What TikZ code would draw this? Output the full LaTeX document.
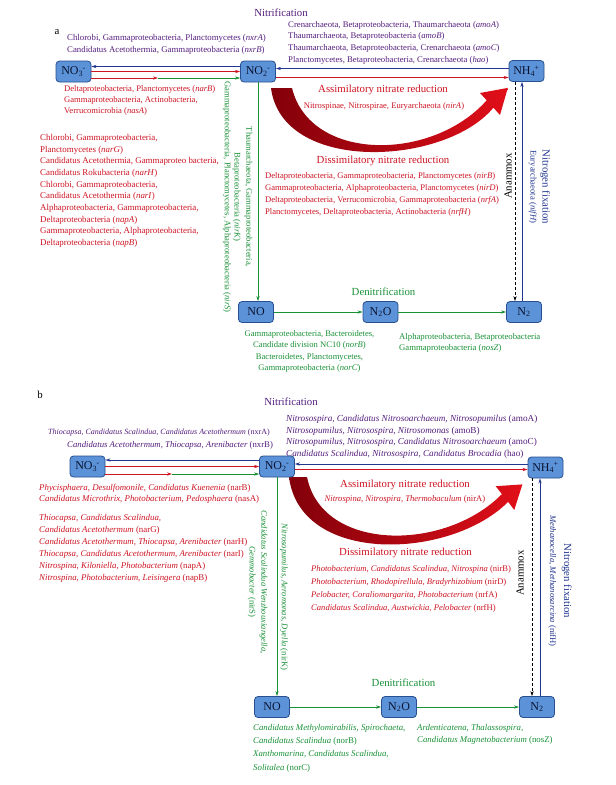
\documentclass[tikz,border=0pt]{standalone}
\usepackage{fontspec}
\setmainfont{Liberation Serif}
\usetikzlibrary{arrows.meta}
\definecolor{purp}{RGB}{85,30,125}
\definecolor{redt}{RGB}{205,20,35}
\definecolor{grn}{RGB}{25,145,55}
\definecolor{blu}{RGB}{35,55,145}
\definecolor{boxfill}{RGB}{92,146,215}
\definecolor{boxdraw}{RGB}{40,80,145}
\definecolor{boxtext}{RGB}{10,20,50}
\definecolor{crdark}{RGB}{130,0,10}
\definecolor{crlight}{RGB}{225,15,25}
\newcommand{\chemsub}[2]{\textsubscript{#1}\kern-0.5pt\textsuperscript{#2}}
\begin{document}
\begin{tikzpicture}[x=1pt,y=-1pt,
 chem/.style={draw=boxdraw,fill=boxfill,rounded corners=3.5pt,line width=0.8pt,minimum width=35pt,minimum height=21pt,inner sep=0pt,font=\fontsize{12}{13}\selectfont,text=boxtext},
 sp/.style={inner sep=0pt,font=\fontsize{8.6}{11.7}\selectfont,align=left,anchor=north west},
 ttl/.style={inner sep=0pt,font=\fontsize{10.8}{12}\selectfont},
 arr/.style={line width=0.75pt,-{Stealth[length=5pt,width=3.2pt]}},
 dsh/.style={dash pattern=on 3pt off 2pt}
]
\fill[white] (0,0) rectangle (616,785);
\useasboundingbox (0,0) rectangle (616,785);

% ================= panel a =================
\shade[left color=crdark,right color=crlight]
 (271,88) .. controls (282,174) and (445,166) .. (493.4,107.7)
 -- (500,115) -- (507.8,87.9) -- (480,93) -- (486.7,100.3)
 .. controls (432,162) and (310,162) .. (292,88) -- cycle;

\node[ttl] (lbla) at (57,32) {a};
\node[ttl,text=purp] (nitra) at (281,13) {Nitrification};
\node[sp,text=purp,font=\fontsize{8.8}{11.7}\selectfont] (nxra) at (67,34) {Chlorobi, Gammaproteobacteria, Planctomycetes (\textit{nxrA})\\Candidatus Acetothermia, Gammaproteobacteria (\textit{nxrB})};
\node[sp,text=purp,font=\fontsize{8.7}{11.6}\selectfont] (amoa) at (288,21) {Crenarchaeota, Betaproteobacteria, Thaumarchaeota (\textit{amoA})\\Thaumarchaeota, Betaproteobacteria (\textit{amoB})\\Thaumarchaeota, Betaproteobacteria, Crenarchaeota (\textit{amoC})\\Planctomycetes, Betaproteobacteria, Crenarchaeota (\textit{hao})};

\node[chem] (no3a) at (73.5,71.5) {NO\chemsub{3}{-}};
\node[chem] (no2a) at (258,71.5) {NO\chemsub{2}{-}};
\node[chem] (nh4a) at (526.5,71) {NH\chemsub{4}{+}};
\node[chem] (noa) at (256,312) {NO};
\node[chem] (n2oa) at (380.5,312) {N\textsubscript{2}O};
\node[chem] (n2a) at (524,312) {N\textsubscript{2}};

\node[sp,text=redt,font=\fontsize{8.6}{11.3}\selectfont] (narba) at (64,85) {Deltaproteobacteria, Planctomycetes (\textit{narB})\\Gammaproteobacteria, Actinobacteria,\\Verrucomicrobia (\textit{nasA})};
\node[sp,text=redt,font=\fontsize{8.9}{11.7}\selectfont] (narga) at (40,134) {Chlorobi, Gammaproteobacteria,\\Planctomycetes (\textit{narG})\\Candidatus Acetothermia, Gammaproteo bacteria,\\Candidatus Rokubacteria (\textit{narH})\\Chlorobi, Gammaproteobacteria,\\Candidatus Acetothermia (\textit{narI})\\Alphaproteobacteria, Gammaproteobacteria,\\Deltaproteobacteria (\textit{napA})\\Gammaproteobacteria, Alphaproteobacteria,\\Deltaproteobacteria (\textit{napB})};

\node[ttl,text=redt] (assima) at (383,90) {Assimilatory nitrate reduction};
\node[sp,anchor=center,text=redt] (nira) at (384,106) {Nitrospinae, Nitrospirae, Euryarchaeota (\textit{nirA})};
\node[ttl,text=redt] (dissa) at (383,161) {Dissimilatory nitrate reduction};
\node[sp,text=redt,font=\fontsize{8.6}{12}\selectfont] (nirba) at (265,172) {Deltaproteobacteria, Gammaproteobacteria, Planctomycetes (\textit{nirB})\\Gammaproteobacteria, Alphaproteobacteria, Planctomycetes (\textit{nirD})\\Deltaproteobacteria, Verrucomicrobia, Gammaproteobacteria (\textit{nrfA})\\Planctomycetes, Deltaproteobacteria, Actinobacteria (\textit{nrfH})};

\node[sp,anchor=center,align=center,rotate=-90,text=grn] (nirka) at (242.5,197) {Thaumarchaeota, Gammaproteobacteria,\\Betaproteobacteria (\textit{nirK})};
\node[sp,anchor=center,rotate=-90,text=grn] (nirsa) at (227,197) {Gammaproteobacteria, Planctomycetes, Alphaproteobacteria (\textit{nirS})};
\node[ttl,rotate=90] (anama) at (508,176) {Anammox};
\node[sp,anchor=center,align=center,rotate=-90,text=blu,font=\fontsize{8.6}{12}\selectfont] (nfixa) at (539.5,187) {{\fontsize{10.8}{12}\selectfont Nitrogen fixation}\\Euryarchaeota (\textit{nifH})};

\node[ttl,text=grn] (denia) at (383.5,292) {Denitrification};
\node[sp,anchor=north,align=center,text=grn,font=\fontsize{8.6}{11.5}\selectfont] (norba) at (309.5,330) {Gammaproteobacteria, Bacteroidetes,\\Candidate division NC10 (\textit{norB})\\Bacteroidetes, Planctomycetes,\\Gammaproteobacteria (\textit{norC})};
\node[sp,text=grn,font=\fontsize{8.7}{11.5}\selectfont] (nosza) at (399,333) {Alphaproteobacteria, Betaproteobacteria\\Gammaproteobacteria (\textit{nosZ})};

% connectors a
\draw[arr,blu] ([yshift=5pt]no2a.west) -- ([yshift=5pt]no3a.east);
\draw[arr,redt] (no3a.east) -- (no2a.west);
\coordinate (splitA) at (158,78);
\draw[arr,redt] ([yshift=-6.5pt]no3a.east) -- (splitA);
\draw[arr,grn] (splitA) -- (splitA -| no2a.west);
\draw[arr,blu] ([yshift=2.5pt]nh4a.west) -- ([yshift=2.5pt]nh4a.west -| no2a.east);
\draw[arr,redt] ([yshift=-6pt]no2a.east) -- ([yshift=-6pt]no2a.east -| nh4a.west);
\draw[arr,grn] (no2a.south) -- (no2a.south |- noa.north);
\draw[arr,grn] (noa.east) -- (n2oa.west);
\draw[arr,grn] (n2oa.east) -- (n2a.west);
\coordinate (xanA) at (515,0);
\coordinate (xfixA) at (522,0);
\draw[arr,dsh] (nh4a.south -| xanA) -- (n2a.north -| xanA);
\draw[arr,blu] (n2a.north -| xfixA) -- (nh4a.south -| xfixA);

% ================= panel b =================
\shade[left color=crdark,right color=crlight]
 (289,477) .. controls (300,565) and (450,560) .. (508.1,501.9)
 -- (514.3,509.9) -- (522.4,484.4) -- (495.7,486.2) -- (501.9,494.1)
 .. controls (445,552) and (322,552) .. (307,477) -- cycle;

\node[ttl] (lblb) at (40,395) {b};
\node[ttl,text=purp] (nitrb) at (291,402) {Nitrification};
\node[sp,anchor=west,text=purp,font=\fontsize{8.0}{11}\selectfont] (nxrb1) at (48,433) {\textit{Thiocapsa, Candidatus Scalindua, Candidatus Acetothermum} (nxrA)};
\node[sp,anchor=west,text=purp,font=\fontsize{8.75}{11}\selectfont] (nxrb2) at (67,445) {\textit{Candidatus Acetothermum, Thiocapsa, Arenibacter} (nxrB)};
\node[sp,text=purp,font=\fontsize{9.2}{11.5}\selectfont] (amob) at (286,415) {\textit{Nitrosospira, Candidatus Nitrosoarchaeum, Nitrosopumilus} (amoA)\\\textit{Nitrosopumilus, Nitrosospira, Nitrosomonas} (amoB)\\\textit{Nitrosopumilus, Nitrosospira, Candidatus Nitrosoarchaeum} (amoC)\\\textit{Candidatus Scalindua, Nitrosospira, Candidatus Brocadia} (hao)};

\node[chem] (no3b) at (87.5,466.5) {NO\chemsub{3}{-}};
\node[chem] (no2b) at (277,466.5) {NO\chemsub{2}{-}};
\node[chem] (nh4b) at (545.5,467.5) {NH\chemsub{4}{+}};
\node[chem] (nob) at (272,707) {NO};
\node[chem] (n2ob) at (399,707) {N\textsubscript{2}O};
\node[chem] (n2b) at (537,707) {N\textsubscript{2}};

\node[sp,text=redt,font=\fontsize{8.85}{11.5}\selectfont] (narbb) at (39,484) {\textit{Phycisphaera, Desulfomonile, Candidatus Kuenenia} (narB)\\\textit{Candidatus Microthrix, Photobacterium, Pedosphaera} (nasA)};
\node[sp,text=redt,font=\fontsize{8.85}{12}\selectfont] (nargb) at (39,514) {\textit{Thiocapsa, Candidatus Scalindua,}\\\textit{Candidatus Acetothermum} (narG)\\\textit{Candidatus Acetothermum, Thiocapsa, Arenibacter} (narH)\\\textit{Thiocapsa, Candidatus Acetothermum, Arenibacter} (narI)\\\textit{Nitrospina, Kiloniella, Photobacterium} (napA)\\\textit{Nitrospina, Photobacterium, Leisingera} (napB)};

\node[ttl,text=redt] (assimb) at (405,485) {Assimilatory nitrate reduction};
\node[sp,anchor=center,text=redt] (nirab) at (405,499) {\textit{Nitrospina, Nitrospira, Thermobaculum} (nirA)};
\node[ttl,text=redt] (dissb) at (405.5,553) {Dissimilatory nitrate reduction};
\node[sp,text=redt,font=\fontsize{8.6}{13}\selectfont] (nirbb) at (311,565) {\textit{Photobacterium, Candidatus Scalindua, Nitrospina} (nirB)\\\textit{Photobacterium, Rhodopirellula, Bradyrhizobium} (nirD)\\\textit{Pelobacter, Coraliomargarita, Photobacterium} (nrfA)\\\textit{Candidatus Scalindua, Austwickia, Pelobacter} (nrfH)};

\node[sp,anchor=center,align=center,rotate=-90,text=grn] (nirsb) at (257.5,582) {\textit{Candidatus Scalindua Wenzhouxiangella,}\\\textit{Gemmobacter} (nirS)};
\node[sp,anchor=center,rotate=-90,text=grn] (nirkb) at (284,597) {\textit{Nitrosopumilus, Aeromonas, Dyella} (nirK)};
\node[ttl,rotate=90] (anamb) at (520,573) {Anammox};
\node[sp,anchor=center,align=center,rotate=-90,text=blu,font=\fontsize{8.6}{14}\selectfont] (nfixb) at (560,581) {{\fontsize{10.8}{12}\selectfont Nitrogen fixation}\\\textit{Methanocella, Methanosarcina} (nifH)};

\node[ttl,text=grn] (denib) at (403.5,683) {Denitrification};
\node[sp,text=grn,font=\fontsize{8.8}{13.3}\selectfont] (norbb) at (253,724) {\textit{Candidatus Methylomirabilis, Spirochaeta,}\\\textit{Candidatus Scalindua} (norB)\\\textit{Xanthomarina, Candidatus Scalindua,}\\\textit{Solitalea} (norC)};
\node[sp,text=grn,font=\fontsize{8.8}{12}\selectfont] (noszb) at (417,724) {\textit{Ardenticatena, Thalassospira,}\\\textit{Candidatus Magnetobacterium} (nosZ)};

% connectors b
\draw[arr,blu] ([yshift=6.5pt]no2b.west) -- ([yshift=6.5pt]no3b.east);
\draw[arr,redt] (no3b.east) -- (no2b.west);
\coordinate (splitB) at (172,474);
\draw[arr,redt] ([yshift=-7.5pt]no3b.east) -- (splitB);
\draw[arr,grn] (splitB) -- (splitB -| no2b.west);
\draw[arr,blu] ([yshift=3.5pt]nh4b.west) -- ([yshift=3.5pt]nh4b.west -| no2b.east);
\draw[arr,redt] ([yshift=-3pt]no2b.east) -- ([yshift=-3pt]no2b.east -| nh4b.west);
\draw[arr,grn] (no2b.south) -- (no2b.south |- nob.north);
\draw[arr,grn] (nob.east) -- (n2ob.west);
\draw[arr,grn] (n2ob.east) -- (n2b.west);
\coordinate (xanB) at (532,0);
\coordinate (xfixB) at (540,0);
\draw[arr,dsh] (nh4b.south -| xanB) -- (n2b.north -| xanB);
\draw[arr,blu] (n2b.north -| xfixB) -- (nh4b.south -| xfixB);
\end{tikzpicture}
\end{document}
